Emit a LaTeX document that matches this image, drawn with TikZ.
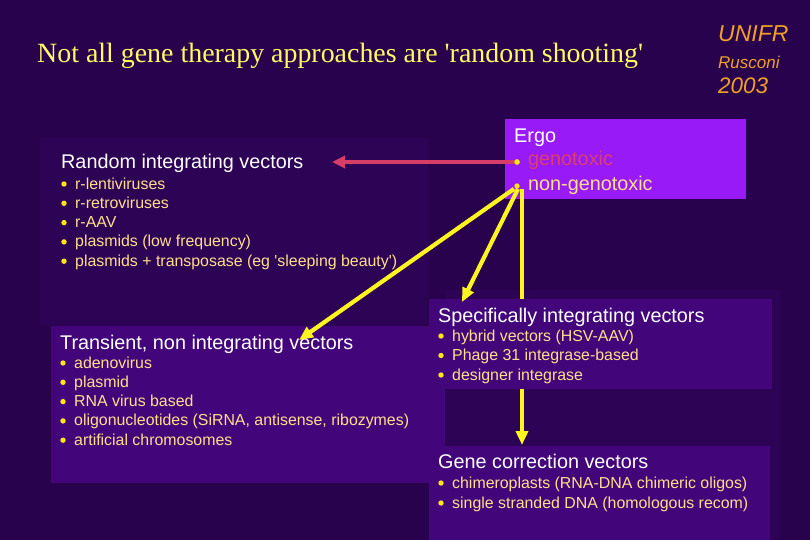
\documentclass[tikz,border=0pt]{standalone}
\usepackage{fontspec}
\setmainfont{Liberation Sans}
\newfontfamily\titlefont{Liberation Serif}
\usetikzlibrary{arrows.meta}
\definecolor{bgcol}{RGB}{40,2,76}
\definecolor{shadecol}{RGB}{45,3,85}
\definecolor{boxcol}{RGB}{66,6,122}
\definecolor{ergocol}{RGB}{152,26,246}
\definecolor{itemcol}{RGB}{255,222,140}
\definecolor{bulcol}{RGB}{255,230,20}
\definecolor{gencol}{RGB}{220,62,110}
\definecolor{titlecol}{RGB}{255,250,100}
\definecolor{unicol}{RGB}{240,160,40}
\definecolor{arrred}{RGB}{214,62,104}
\definecolor{arryel}{RGB}{255,245,30}
\tikzset{
  blk/.style={rectangle,inner sep=0pt,outer sep=0pt,anchor=north west},
  hdtxt/.style={anchor=base west,inner sep=0pt,text=white,font=\fontsize{19.8}{22}\selectfont},
  itmtxt/.style={anchor=base west,inner sep=0pt,text=itemcol,font=\fontsize{15.9}{18}\selectfont},
  ergotxt/.style={anchor=base west,inner sep=0pt,font=\fontsize{19.8}{22}\selectfont},
  unitxt/.style={anchor=base west,inner sep=0pt,text=unicol},
  bul/.style={circle,fill=bulcol,inner sep=0pt,minimum size=5.4pt},
  yarr/.style={-{Triangle[length=14pt,width=12pt]},line width=4.2pt,arryel},
  rarr/.style={-{Triangle[length=13pt,width=12pt]},line width=3.4pt,arrred}
}
\newcommand{\sq}{\textquotesingle}

\begin{document}
\begin{tikzpicture}[x=1pt,y=-1pt]
  \fill[bgcol] (0,0) rectangle (810,540);
  \useasboundingbox (0,0) rectangle (810,540);

  % shaded panels
  \fill[shadecol] (40,138) rectangle (428,325);
  \fill[shadecol] (445,290) rectangle (780,540);

  % title and author
  \node[anchor=base west,inner sep=0pt,text=titlecol,font=\titlefont\fontsize{27.9}{30}\selectfont] (title) at (37,63)
    {Not all gene therapy approaches are \sq random shooting\sq};
  \node[unitxt,font=\itshape\fontsize{23}{25}\selectfont] (uni) at (718,42) {UNIFR};
  \node[unitxt,font=\itshape\fontsize{17}{19}\selectfont] (auth) at (718,69) {Rusconi};
  \node[unitxt,font=\itshape\fontsize{22.5}{25}\selectfont] (year) at (718,94) {2003};

  % Ergo box
  \node[blk,fill=ergocol,minimum width=241pt,minimum height=80pt] (ergo) at (505,119) {};
  \node[ergotxt,text=white] (ergohd) at (514,143) {Ergo};
  \node[bul] (gtx) at (517,162) {};
  \node[ergotxt,text=gencol] (gtxt) at (528,166) {genotoxic};
  \node[bul] (ngtx) at (517,186) {};
  \node[ergotxt,text=itemcol] (ngtxt) at (528,190) {non-genotoxic};

  \coordinate (rndtip) at (332,162);
  \coordinate (trtip) at (299,340);
  \coordinate (sptip) at (462,302);
  \coordinate (gctip) at (522,445);

  % runs behind the specific box
  \draw[yarr] ([xshift=5pt]ngtx.south) -- (gctip);

  % boxes
  \node[blk,fill=boxcol,minimum width=394pt,minimum height=157pt] (trbox) at (51,326) {};
  \node[blk,fill=boxcol,minimum width=343pt,minimum height=90pt] (spbox) at (429,299) {};
  \node[blk,fill=boxcol,minimum width=341pt,minimum height=94pt] (gcbox) at (429,446) {};

  % random integrating
  \node[hdtxt] (rndhd) at (61,168) {Random integrating vectors};
  \foreach \t [count=\i] in {r-lentiviruses,r-retroviruses,r-AAV,plasmids (low frequency),
      plasmids + transposase (eg \sq sleeping beauty\sq)} {
    \node[bul] (rb\i) at (64,{184+19.3*(\i-1)}) {};
    \node[itmtxt] (ri\i) at (75,{189+19.3*(\i-1)}) {\t};
  }

  % transient
  \node[hdtxt] (trhd) at (60,349) {Transient, non integrating vectors};
  \foreach \t [count=\i] in {adenovirus,plasmid,RNA virus based,
      {oligonucleotides (SiRNA, antisense, ribozymes)},artificial chromosomes} {
    \node[bul] (tb\i) at (63,{363+19.3*(\i-1)}) {};
    \node[itmtxt] (ti\i) at (74,{368+19.3*(\i-1)}) {\t};
  }

  % specifically integrating
  \node[hdtxt] (sphd) at (438,322) {Specifically integrating vectors};
  \foreach \t [count=\i] in {hybrid vectors (HSV-AAV),Phage 31 integrase-based,designer integrase} {
    \node[bul] (sb\i) at (441,{336+19.5*(\i-1)}) {};
    \node[itmtxt] (si\i) at (452,{341+19.5*(\i-1)}) {\t};
  }

  % gene correction
  \node[hdtxt] (gchd) at (438,468) {Gene correction vectors};
  \foreach \t [count=\i] in {chimeroplasts (RNA-DNA chimeric oligos),single stranded DNA (homologous recom)} {
    \node[bul] (gb\i) at (441,{483+20*(\i-1)}) {};
    \node[itmtxt] (gi\i) at (452,{488+20*(\i-1)}) {\t};
  }

  \draw[rarr] (gtx.center) -- (rndtip);
  \draw[yarr] ([xshift=-3pt]ngtx.south) -- (trtip);
  \draw[yarr] ([xshift=1pt]ngtx.south) -- (sptip);
  \node[bul] at (gtx) {};
\end{tikzpicture}
\end{document}
